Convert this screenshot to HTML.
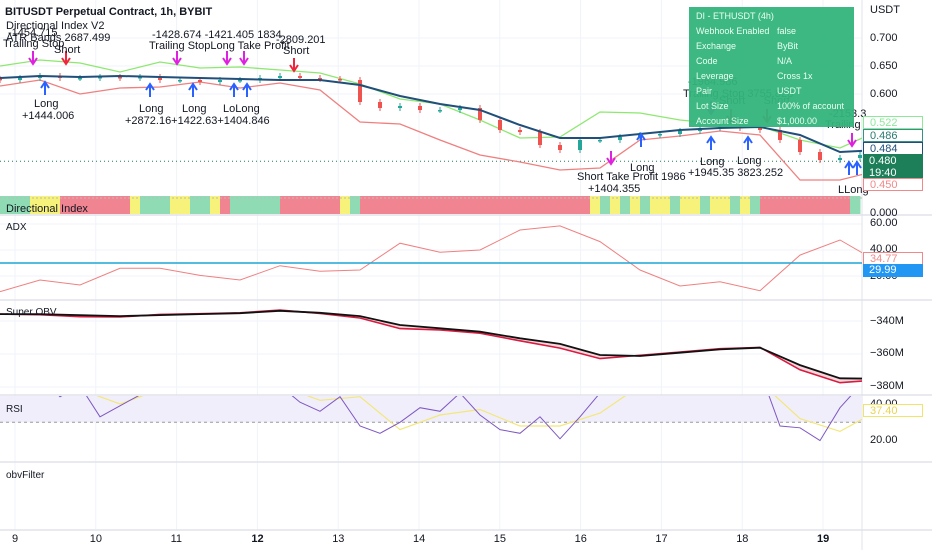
<!DOCTYPE html>
<html><head><meta charset="utf-8">
<style>
body{margin:0;background:#fff;}
#wrap{position:relative;width:932px;height:550px;overflow:hidden;font-family:"Liberation Sans",sans-serif;}
svg{position:absolute;left:0;top:0;}
.t{position:absolute;font-size:11px;color:#131722;white-space:nowrap;}
.ax{position:absolute;left:870px;font-size:11px;color:#131722;}
.box{position:absolute;left:863px;width:60px;height:13px;font-size:11px;line-height:13px;padding-left:6px;box-sizing:border-box;background:#fff;}
#info{position:absolute;left:689px;top:7px;width:165px;height:120px;background:#33b57c;opacity:.95;color:#e9fff3;font-size:9px;}
#info div{position:absolute;}
</style></head><body>
<div id="wrap">
<svg id="svg" width="932" height="550"></svg>

<div class="t" style="left:5px;top:6px;font-weight:bold;">BITUSDT Perpetual Contract, 1h, BYBIT</div>
<div class="t" style="left:6px;top:20px;">Directional Index V2</div>
<div class="t" style="left:6px;top:32px;">ATR Bands 2687.499</div>
<div class="t" style="left:8px;top:27px;">-1454.715</div>
<div class="t" style="left:3px;top:38px;">Trailing Stop</div>
<div class="t" style="left:54px;top:44px;">Short</div>
<div class="t" style="left:34px;top:98px;">Long</div>
<div class="t" style="left:22px;top:110px;">+1444.006</div>
<div class="t" style="left:152px;top:29px;">-1428.674 -1421.405 1834</div>
<div class="t" style="left:149px;top:40px;">Trailing StopLong Take Profit</div>
<div class="t" style="left:276px;top:34px;">-2809.201</div>
<div class="t" style="left:283px;top:45px;">Short</div>
<div class="t" style="left:139px;top:103px;">Long</div>
<div class="t" style="left:125px;top:115px;">+2872.16+1422.63+1404.846</div>
<div class="t" style="left:182px;top:103px;">Long</div>
<div class="t" style="left:223px;top:103px;">LoLong</div>
<div class="t" style="left:688px;top:76px;">-1964.986</div>
<div class="t" style="left:683px;top:88px;">Trailing Stop 3755.828</div>
<div class="t" style="left:719px;top:95px;">Short &nbsp;&nbsp;&nbsp;&nbsp;&nbsp;Short</div>
<div class="t" style="left:829px;top:108px;">-2153.3</div>
<div class="t" style="left:825px;top:119px;">Trailing S</div>
<div class="t" style="left:577px;top:171px;">Short Take Profit 1986</div>
<div class="t" style="left:588px;top:183px;">+1404.355</div>
<div class="t" style="left:630px;top:162px;">Long</div>
<div class="t" style="left:700px;top:156px;">Long</div>
<div class="t" style="left:688px;top:167px;">+1945.35 3823.252</div>
<div class="t" style="left:737px;top:155px;">Long</div>
<div class="t" style="left:838px;top:184px;">LLong</div>

<div id="info">
<div style="left:7px;top:4px">DI - ETHUSDT (4h)</div>
<div style="left:7px;top:19px">Webhook Enabled</div><div style="left:88px;top:19px">false</div>
<div style="left:7px;top:34px">Exchange</div><div style="left:88px;top:34px">ByBit</div>
<div style="left:7px;top:49px">Code</div><div style="left:88px;top:49px">N/A</div>
<div style="left:7px;top:64px">Leverage</div><div style="left:88px;top:64px">Cross 1x</div>
<div style="left:7px;top:79px">Pair</div><div style="left:88px;top:79px">USDT</div>
<div style="left:7px;top:94px">Lot Size</div><div style="left:88px;top:94px">100% of account</div>
<div style="left:7px;top:109px">Account Size</div><div style="left:88px;top:109px">$1,000.00</div>
</div>

<div class="t" style="left:6px;top:203px;">Directional Index</div>
<div class="t" style="left:6px;top:222px;font-size:10px">ADX</div>
<div class="t" style="left:6px;top:307px;font-size:10px">Super OBV</div>
<div class="t" style="left:6px;top:404px;font-size:10px">RSI</div>
<div class="t" style="left:6px;top:470px;font-size:10px">obvFilter</div>

<div class="ax" style="top:4px">USDT</div>
<div class="ax" style="top:32px">0.700</div>
<div class="ax" style="top:60px">0.650</div>
<div class="ax" style="top:88px">0.600</div>
<div class="box" style="top:116px;border:1px solid #8ee89a;color:#8ee89a">0.522</div>
<div class="box" style="top:129px;border:1px solid #3a8f86;color:#2a7a70">0.486</div>
<div class="box" style="top:142px;border:1px solid #1e4f7a;color:#1e4f7a">0.484</div>
<div class="box" style="top:154px;height:26px;background:#1d7f5a;color:#fff;line-height:12px;padding-top:1px">0.480<br>19:40</div>
<div class="box" style="top:178px;border:1px solid #f08a8a;color:#f08a8a">0.450</div>
<div class="ax" style="top:207px">0.000</div>
<div class="ax" style="top:217px">60.00</div>
<div class="ax" style="top:243px">40.00</div>
<div class="ax" style="top:270px">20.00</div>
<div class="box" style="top:252px;border:1px solid #f08a8a;color:#f08a8a">34.77</div>
<div class="box" style="top:264px;background:#2196f3;color:#fff">29.99</div>
<div class="ax" style="top:315px">−340M</div>
<div class="ax" style="top:347px">−360M</div>
<div class="ax" style="top:380px">−380M</div>
<div class="ax" style="top:398px">40.00</div>
<div class="box" style="top:404px;border:1px solid #f2e36a;color:#e8d450">37.40</div>
<div class="ax" style="top:434px">20.00</div>
<div id="days"></div>
</div>
<script>
// ---------- data ----------
const dayLabels=["9","10","11","12","13","14","15","16","17","18","19"];
const closes=[0.625,0.6286,0.6321,0.6286,0.6286,0.6304,0.6286,0.6304,0.625,0.625,0.6214,0.625,0.625,0.6286,0.6321,0.6286,0.6268,0.625,0.5857,0.575,0.5786,0.5714,0.5714,0.575,0.5536,0.5357,0.5321,0.5089,0.5,0.5179,0.5179,0.5232,0.5268,0.5286,0.5339,0.5393,0.5411,0.5393,0.5357,0.5179,0.4964,0.4821,0.4857,0.4911];
const upperBand=[0.65,0.6607,0.6554,0.6393,0.6571,0.6464,0.6482,0.6429,0.6375,0.6179,0.5911,0.5821,0.5536,0.5214,0.5232,0.5679,0.5661,0.5536,0.5464,0.5429,0.5179,0.5036,0.5357];
const lowerBand=[0.6143,0.625,0.6,0.6107,0.6125,0.6214,0.6107,0.6196,0.6071,0.55,0.5464,0.5179,0.4911,0.4786,0.4643,0.4679,0.5179,0.525,0.5339,0.5268,0.4464,0.4464,0.4643];
const emaLine=[0.6286,0.6321,0.6304,0.6321,0.6304,0.6286,0.6268,0.625,0.625,0.6161,0.5964,0.5821,0.5714,0.5446,0.5214,0.5214,0.5286,0.5357,0.5393,0.5411,0.5268,0.4964,0.5];
const adxValues=[7.9,16.9,13.1,25.9,25.9,20.5,16.9,27.9,23.6,24.6,45.2,38.2,40,55.4,58.5,46.5,24.6,12.3,15.6,8.7,36.1,47.7,30];
const adxThreshold=29.99;
const obvSlow=[-335.8,-335.9,-336.4,-337.0,-336.4,-335.8,-335.3,-333.8,-335.0,-337.0,-342.4,-344.4,-346.5,-350.5,-353.9,-360.6,-361.2,-359.2,-357.2,-356.2,-366.7,-374.7,-375];
const obvFast=[-335.8,-336.2,-337.4,-337.6,-336.0,-335.6,-335.0,-333.4,-335.4,-338.2,-344.6,-345.4,-347.4,-352.0,-356.4,-362.8,-360.8,-358.8,-356.8,-356.0,-369.6,-377.4,-375.6];
const rsiValues=[60,60,55,44,50,33,39,45,55,60,60,50,55,60,50,41,36,44,28,24,30,38,36,46,34,26,24,33,21,33,46,55,60,58,60,62,55,60,58,28,27,20,38,50];
const rsiMA=[60,55,48,40,48,55,58,50,42,44,26,34,37,28,28,35,50,58,56,52,32,25,37];
const diStates="gggyyyrrrrrrrygggyyggyrgggggrrrrrryg"+"rrrrrrrrrrrrrrrrrrrrrrr"+"ygygygyygyygyygyg".slice(0,17)+"rrrrrrrrr"+"g";

// ---------- scales ----------
const W=862;
const dayX=i=>15+i*80.8;
const pY=p=>38+(0.7-p)*560;
const adxY=v=>224+(60-v)*1.3;
const obvY=v=>321+(-340-v)*1.65;
const rsiY=v=>404+(40-v)*1.83;
const x40=i=>i*40, x20=i=>i*20;

const svg=document.getElementById('svg');
const NS="http://www.w3.org/2000/svg";
function mk(tag,at,parent){const e=document.createElementNS(NS,tag);for(const k in at)e.setAttribute(k,at[k]);(parent||svg).appendChild(e);return e;}
function clip(id,y,h){const d=mk('clipPath',{id:id});mk('rect',{x:0,y:y,width:W,height:h},d);}
clip('cMain',0,196);clip('cAdx',216,84);clip('cObv',301,94);clip('cRsi',396,66);

// grid
for(let i=0;i<dayLabels.length;i++){
 const g=mk('line',{x1:dayX(i),x2:dayX(i),y1:0,y2:530,stroke:'#f0f3fa','stroke-width':1});
 
 
}
[0.7,0.65,0.6].forEach(p=>{const g=mk('line',{x1:0,x2:W,y1:pY(p),y2:pY(p),stroke:'#f0f3fa'});
 
 });
[60,40,20].forEach(v=>mk('line',{x1:0,x2:W,y1:adxY(v),y2:adxY(v),stroke:'#f0f3fa'}));
[-340,-360,-380].forEach(v=>mk('line',{x1:0,x2:W,y1:obvY(v),y2:obvY(v),stroke:'#f0f3fa'}));
// pane separators
[215,300,395,462,530].forEach(y=>{const s=mk('line',{x1:0,x2:932,y1:y,y2:y,stroke:'#e0e3eb','stroke-width':1.5});
 
 });
mk('line',{x1:W,x2:W,y1:0,y2:550,stroke:'#e0e3eb'});

function poly(arr,xf,yf,attrs,clipId,name){
 const pts=arr.map((v,i)=>xf(i)+','+yf(v).toFixed(1)).join(' ');
 const e=mk('polyline',Object.assign({points:pts,fill:'none','clip-path':'url(#'+clipId+')'},attrs));
 
 
 return e;
}
// main pane
const dl=mk('line',{x1:0,x2:W,y1:pY(0.480),y2:pY(0.480),stroke:'#1d7f5a','stroke-dasharray':'1 3'});


poly(upperBand,x40,pY,{stroke:'#8ee870','stroke-width':1.3},'cMain','upper-atr-band');
poly(lowerBand,x40,pY,{stroke:'#f07f7f','stroke-width':1.3},'cMain','lower-atr-band');
for(let i=0;i<closes.length;i++){
 const o=i?closes[i-1]:closes[0]+0.002, c=closes[i];
 const up=c>=o, col=up?'#26a69a':'#ef5350';
 const y1=pY(Math.max(o,c)), y2=pY(Math.min(o,c));
 const cx=x20(i);
 mk('line',{x1:cx,x2:cx,y1:y1-3,y2:y2+3,stroke:col,'clip-path':'url(#cMain)'});
 const r=mk('rect',{x:cx-2,y:y1,width:4,height:Math.max(1.5,y2-y1),fill:col,'clip-path':'url(#cMain)'});
 
 
}
poly(emaLine,x40,pY,{stroke:'#1f4f7a','stroke-width':2},'cMain','ema-line');
// signal arrows
const arrows=[[33,'d','#e020e0',58],[66,'d','#f0243c',58],[45,'u','#2962ff',88],[177,'d','#e020e0',58],[227,'d','#e020e0',58],[244,'d','#e020e0',58],[294,'d','#f0243c',65],[150,'u','#2962ff',90],[193,'u','#2962ff',90],[234,'u','#2962ff',90],[247,'u','#2962ff',90],[611,'d','#e020e0',158],[641,'u','#2962ff',140],[711,'d','#e020e0',108],[731,'d','#f0243c',116],[767,'d','#f0243c',116],[711,'u','#2962ff',143],[748,'u','#2962ff',143],[852,'d','#e020e0',140],[849,'u','#2962ff',168],[857,'u','#2962ff',168]];
arrows.forEach(a=>{
 const [x,d,c,y]=a;const s=d==='d'?1:-1;
 const g=mk('path',{d:`M${x-4},${y} L${x},${y+s*6} L${x+4},${y} M${x},${y+s*6} L${x},${y-s*7}`,stroke:c,'stroke-width':2,fill:'none'});
 
 
});
// DI strip
const diCol={r:'#f08490',g:'#8fdcb4',y:'#f7f27a'};
for(let i=0;i<diStates.length;i++){
 const r=mk('rect',{x:i*10,y:196,width:10.5,height:18,fill:diCol[diStates[i]]});
 
 
}
mk('line',{x1:0,x2:W,y1:198,y2:198,stroke:'#bbb','stroke-dasharray':'2 2'});
poly(adxValues,x40,v=>212-v*0.25,{stroke:'#2196f3','stroke-width':2},'cMain','di-adx-line');
poly(rsiMA,x40,v=>216-v*0.25,{stroke:'#d6335a','stroke-width':1},'cMain','di-plus-line');
// ADX
poly(adxValues,x40,adxY,{stroke:'#f08080','stroke-width':1},'cAdx','adx-line');
const th=mk('line',{x1:0,x2:W,y1:adxY(adxThreshold),y2:adxY(adxThreshold),stroke:'#1ca6d6','stroke-width':1.5});


// OBV
const fillPts=obvSlow.map((v,i)=>x40(i)+','+obvY(v)).join(' ')+' '+obvFast.map((v,i)=>x40(i)+','+obvY(v)).reverse().join(' ');
mk('polygon',{points:fillPts,fill:'#f8d7dc','clip-path':'url(#cObv)'});
poly(obvFast,x40,obvY,{stroke:'#d81b40','stroke-width':1.6},'cObv','obv-fast-line');
poly(obvSlow,x40,obvY,{stroke:'#111','stroke-width':1.8},'cObv','obv-slow-line');
// RSI
const bg=mk('rect',{x:0,y:396,width:W,height:rsiY(30)-396,fill:'#f1eefb'});


mk('line',{x1:0,x2:W,y1:rsiY(30),y2:rsiY(30),stroke:'#999','stroke-dasharray':'3 3'});
poly(rsiMA,x40,rsiY,{stroke:'#f2e77a','stroke-width':1.2},'cRsi','rsi-ma-line');
poly(rsiValues,x20,rsiY,{stroke:'#7e57c2','stroke-width':1},'cRsi','rsi-line');
// day labels
const days=document.getElementById('days');
dayLabels.forEach((d,i)=>{const e=document.createElement('div');e.className='t';
 e.style.left=(dayX(i)-(d.length>1?6:3))+'px';e.style.top='533px';
 if(d==='12'||d==='19')e.style.fontWeight='bold';
 e.textContent=d;
 
 
 days.appendChild(e);});
</script>
</body></html>
